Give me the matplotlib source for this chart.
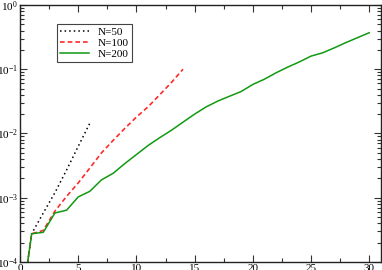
import numpy as np
import matplotlib
matplotlib.use('Agg')
import matplotlib.pyplot as plt
from matplotlib.ticker import MultipleLocator, LogLocator, NullFormatter

plt.rcParams['font.family'] = ['Liberation Serif', 'DejaVu Serif']
plt.rcParams['mathtext.fontset'] = 'custom'
plt.rcParams['mathtext.rm'] = 'Liberation Serif'
plt.rcParams['mathtext.it'] = 'Liberation Serif:italic'

# values (log scale)
x50 = [0, 1, 2, 3, 4, 5, 6]
y50 = [1.4e-5, 2.75e-4, 5.8e-4, 1.2e-3, 2.7e-3, 6.3e-3, 1.45e-2]

x100 = [0, 1, 2, 3, 4, 5, 6, 7, 8, 9, 10, 11, 12, 13, 14]
y100 = [1.4e-5, 2.75e-4, 3.1e-4, 6.2e-4, 1.05e-3, 1.7e-3, 2.9e-3, 5.0e-3,
        7.8e-3, 1.2e-2, 1.8e-2, 2.6e-2, 4.0e-2, 6.2e-2, 1.0e-1]

x200 = list(range(31))
y200 = [1.4e-5, 2.75e-4, 2.9e-4, 5.8e-4, 6.4e-4, 1.03e-3, 1.26e-3, 1.9e-3,
        2.4e-3, 3.4e-3, 4.7e-3, 6.5e-3, 8.6e-3, 1.12e-2, 1.5e-2, 2.0e-2,
        2.6e-2, 3.2e-2, 3.8e-2, 4.5e-2, 5.8e-2, 7.0e-2, 8.8e-2, 1.08e-1,
        1.3e-1, 1.6e-1, 1.8e-1, 2.15e-1, 2.6e-1, 3.1e-1, 3.7e-1]

fig = plt.figure(figsize=(3.82, 2.70), dpi=100)
ax = fig.add_axes([0.0524, 0.0296, 0.9446, 0.952])

ax.plot(x50, y50, color='black', ls=(0, (1, 2)), lw=1.1, label='N=50')
ax.plot(x100, y100, color='#ff2a2a', ls=(0, (2.8, 1.8)), lw=1.2, label='N=100')
ax.plot(x200, y200, color='#119911', lw=1.1, label='N=200')

ax.set_yscale('log')
ax.set_xlim(0, 31)
ax.set_ylim(1e-4, 1)

ax.xaxis.set_major_locator(MultipleLocator(5))
ax.xaxis.set_minor_locator(MultipleLocator(2.5))
ax.yaxis.set_major_locator(LogLocator(base=10, numticks=10))
ax.yaxis.set_minor_locator(LogLocator(base=10, subs=np.arange(2, 10), numticks=10))
ax.yaxis.set_minor_formatter(NullFormatter())

ax.tick_params(which='both', direction='in', top=True, right=True,
               labelsize=8, width=0.8, color='#333333')
ax.tick_params(which='major', length=5, pad=1.5)
ax.tick_params(which='minor', length=3)
for s in ax.spines.values():
    s.set_linewidth(1.0)
    s.set_color('#222222')

leg = ax.legend(loc='upper left', bbox_to_anchor=(0.102, 0.926), fontsize=8,
                fancybox=False, framealpha=1, edgecolor='#444444',
                handlelength=2.6, handletextpad=0.8, borderpad=0.3,
                labelspacing=0.1, borderaxespad=0)
leg.get_frame().set_linewidth(0.8)

fig.savefig('out.png', dpi=100)
